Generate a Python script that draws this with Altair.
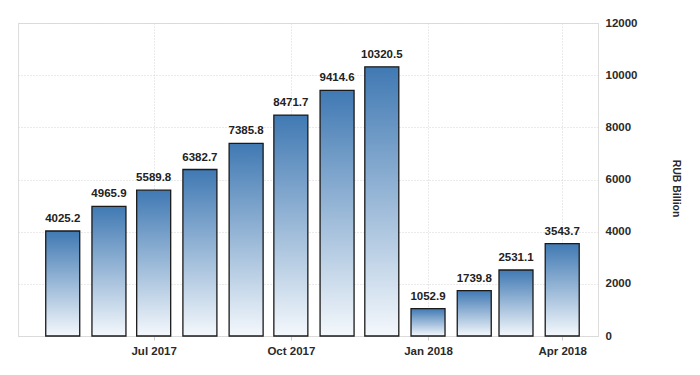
import altair as alt
import pandas as pd

months = ["2017-05-01", "2017-06-01", "2017-07-01", "2017-08-01", "2017-09-01", "2017-10-01",
          "2017-11-01", "2017-12-01", "2018-01-01", "2018-02-01", "2018-03-01", "2018-04-01"]
values = [4025.2, 4965.9, 5589.8, 6382.7, 7385.8, 8471.7, 9414.6, 10320.5, 1052.9, 1739.8, 2531.1, 3543.7]
y_ticks = [0, 2000, 4000, 6000, 8000, 10000, 12000]

df = pd.DataFrame({"date": months, "value": values})

FONT = "Liberation Sans"

x_enc = alt.X(
    "date:T",
    scale=alt.Scale(type="utc", padding=0,
                    domain=[alt.DateTime(year=2017, month=4, date=1, utc=True),
                            alt.DateTime(year=2018, month=4, date=25, utc=True)]),
    axis=alt.Axis(
        values=[alt.DateTime(year=2017, month=7, date=1, utc=True),
                alt.DateTime(year=2017, month=10, date=1, utc=True),
                alt.DateTime(year=2018, month=1, date=1, utc=True),
                alt.DateTime(year=2018, month=4, date=1, utc=True)],
        labelExpr="utcFormat(datum.value, '%b %Y')", title=None, domain=False,
        ticks=True, tickSize=4, tickColor="#cccccc", labelPadding=5,
        labelFont=FONT, labelFontSize=11.5, labelColor="#2a2a2a", labelFontWeight="bold",
        grid=True, gridColor="#d4d4d4", gridDash=[1, 2], gridWidth=1,
    ),
)

y_enc = alt.Y(
    "value:Q",
    scale=alt.Scale(domain=[0, 12000], nice=False),
    axis=alt.Axis(
        orient="right", values=y_ticks, format="d", title="RUB Billion", domain=False, ticks=False,
        labelPadding=7, labelFont=FONT, labelFontSize=11.5, labelColor="#2a2a2a",
        labelFontWeight="bold",
        grid=True, gridColor="#d4d4d4", gridDash=[1, 2], gridWidth=1,
        titleFont=FONT, titleFontSize=10.5, titleFontWeight="bold", titleColor="#2a2a2a",
        titleAngle=90, titleX=77, titleY=165, titleAlign="center", titleBaseline="middle",
    ),
)

bars = alt.Chart(df).mark_bar(
    size=34,
    stroke="#1a1a1a", strokeWidth=1.3,
    fill={"gradient": "linear", "x1": 0, "y1": 0, "x2": 0, "y2": 1,
          "stops": [{"offset": 0, "color": "#4079b3"},
                    {"offset": 1, "color": "#f4f8fc"}]},
).encode(x=x_enc, y=y_enc)

labels = alt.Chart(df).mark_text(
    baseline="bottom", dy=-7, font=FONT, fontSize=11.5, fontWeight="bold", color="#222222",
).encode(x="date:T", y="value:Q", text=alt.Text("value:Q", format=".1f"))

chart = alt.layer(bars, labels).properties(
    width=580, height=313,
    padding={"left": 10, "top": 15, "right": 86, "bottom": 22},
    autosize=alt.AutoSizeParams(type="none"),
).configure_view(stroke=None).configure(background="white")

chart.save("out.html", embed_options={"renderer": "svg", "actions": False})
